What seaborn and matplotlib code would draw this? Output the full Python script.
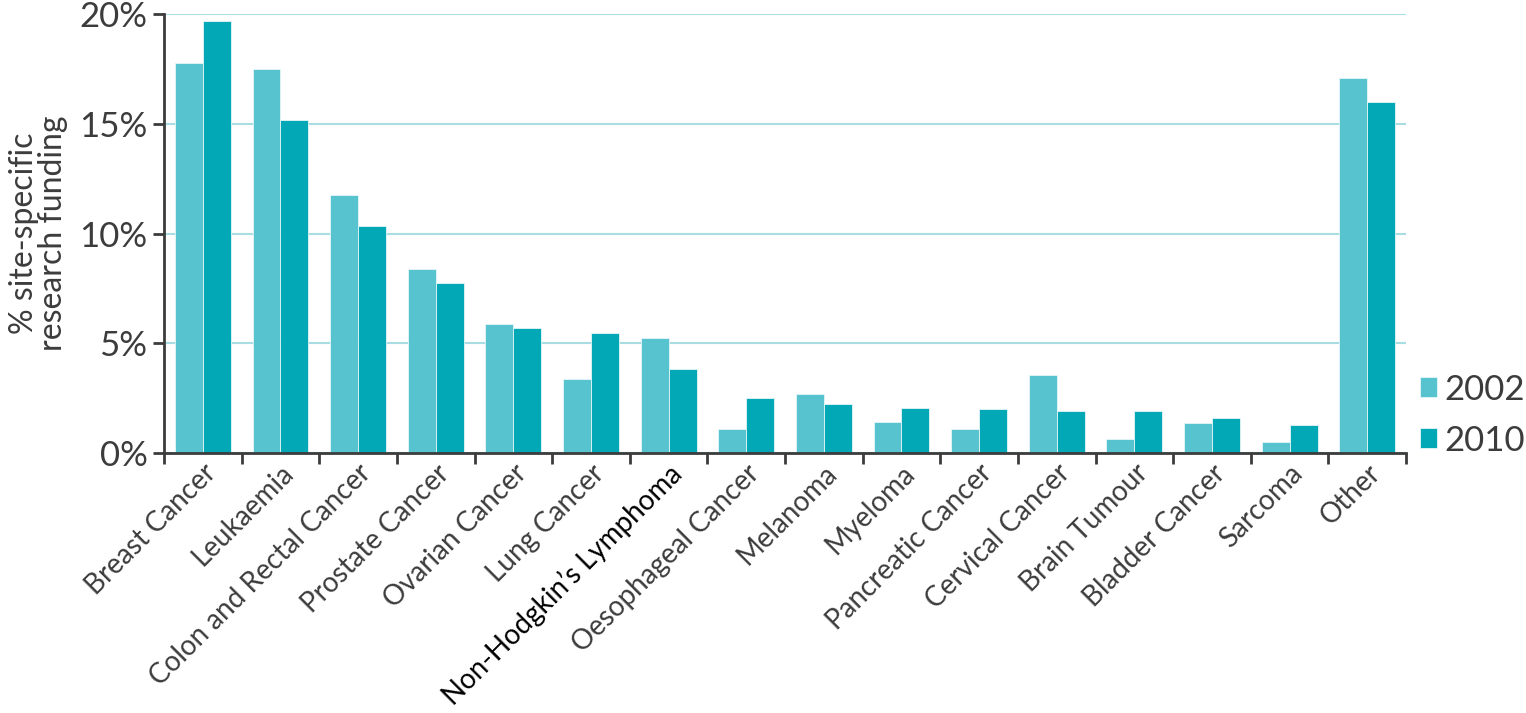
import numpy as np
import pandas as pd
import matplotlib
matplotlib.use("Agg")
import matplotlib.pyplot as plt
import seaborn as sns
from matplotlib.ticker import FixedLocator, FuncFormatter

categories = ["Breast Cancer", "Leukaemia", "Colon and Rectal Cancer", "Prostate Cancer",
              "Ovarian Cancer", "Lung Cancer", "Non-Hodgkin\u2019s Lymphoma", "Oesophageal Cancer",
              "Melanoma", "Myeloma", "Pancreatic Cancer", "Cervical Cancer", "Brain Tumour",
              "Bladder Cancer", "Sarcoma", "Other"]
funding_2002 = [17.8, 17.5, 11.75, 8.4, 5.9, 3.37, 5.24, 1.09, 2.7, 1.41, 1.09, 3.55, 0.64, 1.36, 0.5, 17.08]
funding_2010 = [19.7, 15.2, 10.35, 7.75, 5.7, 5.47, 3.83, 2.5, 2.23, 2.05, 2.0, 1.91, 1.91, 1.6, 1.27, 16.0]
years = ["2002", "2010"]
colors = {"2002": "#56C3CE", "2010": "#02A8B5"}

df = pd.DataFrame({
    "site": categories * 2,
    "year": [years[0]] * len(categories) + [years[1]] * len(categories),
    "pct": funding_2002 + funding_2010,
})

sns.set_style("white")
plt.rcParams["font.family"] = ["Lato", "DejaVu Sans"]
text_col = "#3c3c3c"

fig = plt.figure(figsize=(15.26, 7.13), dpi=100)
ax = fig.add_axes([0.1075, 0.3647, 0.8139, 0.6153])

sns.barplot(data=df, x="site", y="pct", hue="year", order=categories, hue_order=years,
            palette=colors, width=0.72, gap=0, edgecolor="#e6f6f7", linewidth=0.6,
            saturation=1, ax=ax, legend=True)

ax.set_xlim(-0.5, len(categories) - 0.5)
ax.set_ylim(0, 20)
ax.set_yticks([0, 5, 10, 15, 20])
ax.yaxis.set_major_formatter(FuncFormatter(lambda v, p: f"{v:.0f}%"))
ax.grid(axis="y", color="#A8DDE3", linewidth=1.5)
ax.set_axisbelow(True)

for s in ["top", "right"]:
    ax.spines[s].set_visible(False)
for s in ["left", "bottom"]:
    ax.spines[s].set_color(text_col)
    ax.spines[s].set_linewidth(2)

ax.tick_params(axis="y", which="major", length=8, width=2, color=text_col,
               labelsize=25, labelcolor=text_col, pad=4, left=True)
ax.xaxis.set_minor_locator(FixedLocator(np.arange(-0.5, len(categories), 1.0)))
ax.tick_params(axis="x", which="minor", length=8, width=2, color=text_col, bottom=True)
ax.tick_params(axis="x", which="major", length=0, pad=5)
ax.set_xticks(range(len(categories)))
ax.set_xticklabels(categories, rotation=45, ha="right", rotation_mode="anchor",
                   fontsize=20, color=text_col)
for lbl in ax.get_xticklabels():
    if lbl.get_text().startswith("Non-Hodgkin"):
        lbl.set_color("black")

ax.set_xlabel("")
ax.set_ylabel("% site-specific\nresearch funding", fontsize=23, color=text_col,
              linespacing=0.95, labelpad=8)

leg = ax.legend(loc="lower left", bbox_to_anchor=(1.0, -0.04), frameon=False,
                fontsize=25, handlelength=0.5, handleheight=0.5, handletextpad=0.2,
                labelspacing=0.55, borderaxespad=0.3, borderpad=0.1)
for t in leg.get_texts():
    t.set_color(text_col)

fig.savefig("out.png", dpi=100)
